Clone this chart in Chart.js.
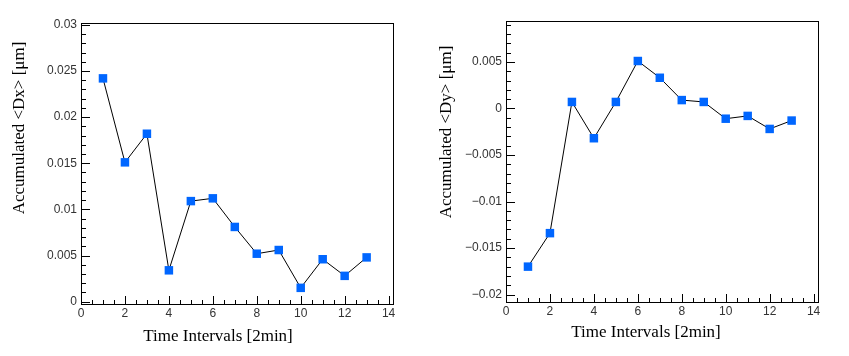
<!DOCTYPE html>
<html>
<head>
<meta charset="utf-8">
<script src="https://cdn.jsdelivr.net/npm/chart.js@4.4.1/dist/chart.umd.min.js"></script>
<style>
    body { margin: 0; background: #fff; }
    canvas { position: absolute; top: 0; }
</style>
</head>
<body>
<canvas id="graficoDx" width="425" height="356" style="left:0"></canvas>
<canvas id="graficoDy" width="424" height="356" style="left:425px"></canvas>
<script>
// Datos
const intervalos = [1, 2, 3, 4, 5, 6, 7, 8, 9, 10, 11, 12, 13];
const dxAcumulado = [0.0242, 0.0151, 0.0182, 0.0034, 0.0109, 0.0112, 0.0081, 0.0052, 0.0056, 0.0015, 0.0046, 0.0028, 0.0048];
const dyAcumulado = [-0.0170, -0.0134, 0.0007, -0.0032, 0.0007, 0.0051, 0.0033, 0.0009, 0.0007, -0.0011, -0.0008, -0.0022, -0.0013];

// Etiquetas de los ejes
const ticksX = [0, 2, 4, 6, 8, 10, 12, 14];
const ticksDx = [0, 0.005, 0.01, 0.015, 0.02, 0.025, 0.03];
const ticksDy = [-0.02, -0.015, -0.01, -0.005, 0, 0.005];

const fuenteTicks = { family: 'Liberation Sans', size: 12 };
const fuenteTitulo = '17px "Liberation Serif"';

// Marco y marcas hacia dentro, al estilo ROOT
const marcoRoot = {
    id: 'marcoRoot',
    afterDraw(chart, args, opts) {
        const { ctx, chartArea: a, scales } = chart;
        const sx = scales.x, sy = scales.y;
        ctx.save();
        ctx.strokeStyle = '#000';
        ctx.lineWidth = 1;
        ctx.strokeRect(Math.round(a.left) + 0.5, Math.round(a.top) + 0.5,
            Math.round(a.right - a.left), Math.round(a.bottom - a.top));

        ctx.beginPath();
        // eje x: mayores cada 2, menores cada 0.5
        for (let i = Math.ceil(sx.min / 0.5); i * 0.5 <= sx.max + 1e-9; i++) {
            const px = Math.round(sx.getPixelForValue(i * 0.5)) + 0.5;
            const largo = i % 4 === 0 ? 8 : 4;
            ctx.moveTo(px, a.bottom);
            ctx.lineTo(px, a.bottom - largo);
        }
        // eje y: mayores cada 0.005, menores cada 0.001
        for (let i = Math.ceil(sy.min / 0.001 - 1e-6); i * 0.001 <= sy.max + 1e-9; i++) {
            const py = Math.round(sy.getPixelForValue(i * 0.001)) + 0.5;
            const largo = i % 5 === 0 ? 9 : 5;
            ctx.moveTo(a.left, py);
            ctx.lineTo(a.left + largo, py);
        }
        ctx.stroke();

        // títulos de los ejes
        ctx.fillStyle = '#000';
        ctx.font = fuenteTitulo;
        ctx.textAlign = 'center';
        ctx.textBaseline = 'middle';
        ctx.fillText(opts.tituloX, opts.posX[0], opts.posX[1]);
        ctx.translate(opts.posY[0], opts.posY[1]);
        ctx.rotate(-Math.PI / 2);
        ctx.fillText(opts.tituloY, 0, 0);
        ctx.restore();
    }
};

function etiqueta(v) {
    if (Math.abs(v) < 1e-12) return '0';
    return String(+v.toFixed(4)).replace('-', '\u2212');
}

function crearGrafico(id, valores, ticksY, yMin, yMax, pad, cfgTitulos) {
    const ctx = document.getElementById(id).getContext('2d');
    return new Chart(ctx, {
        type: 'line',
        data: {
            datasets: [{
                data: intervalos.map((x, i) => ({ x: x, y: valores[i] })),
                borderColor: '#000',
                borderWidth: 1,
                tension: 0,
                pointStyle: 'rect',
                pointRadius: 6,
                pointBackgroundColor: '#0066ff',
                pointBorderWidth: 0
            }]
        },
        options: {
            responsive: false,
            animation: false,
            layout: { padding: { top: pad.top, right: pad.right, left: 0, bottom: 0 } },
            plugins: {
                legend: { display: false },
                tooltip: { enabled: false },
                marcoRoot: cfgTitulos
            },
            scales: {
                x: {
                    type: 'linear',
                    min: 0,
                    max: 14.2,
                    afterBuildTicks: s => { s.ticks = ticksX.map(v => ({ value: v })); },
                    afterFit: s => { s.height = pad.bottom; },
                    grid: { display: false, drawTicks: false },
                    border: { display: false },
                    ticks: { padding: 2, color: '#333', font: fuenteTicks, maxRotation: 0, autoSkip: false, callback: v => String(v) }
                },
                y: {
                    type: 'linear',
                    min: yMin,
                    max: yMax,
                    afterBuildTicks: s => { s.ticks = ticksY.map(v => ({ value: v })); },
                    afterFit: s => { s.width = 81; },
                    grid: { display: false, drawTicks: false },
                    border: { display: false },
                    ticks: { padding: 4, color: '#333', font: fuenteTicks, autoSkip: false, callback: v => etiqueta(v) }
                }
            }
        },
        plugins: [marcoRoot]
    });
}

crearGrafico('graficoDx', dxAcumulado, ticksDx, -0.00025, 0.0302,
    { top: 23, right: 32, bottom: 52 },
    { tituloX: 'Time Intervals [2min]', posX: [218, 337], tituloY: 'Accumulated <Dx> [\u03bcm]', posY: [20, 128] });

crearGrafico('graficoDy', dyAcumulado, ticksDy, -0.0208, 0.0094,
    { top: 21, right: 31, bottom: 54 },
    { tituloX: 'Time Intervals [2min]', posX: [221, 333], tituloY: 'Accumulated <Dy> [\u03bcm]', posY: [22, 132] });
</script>
</body>
</html>
